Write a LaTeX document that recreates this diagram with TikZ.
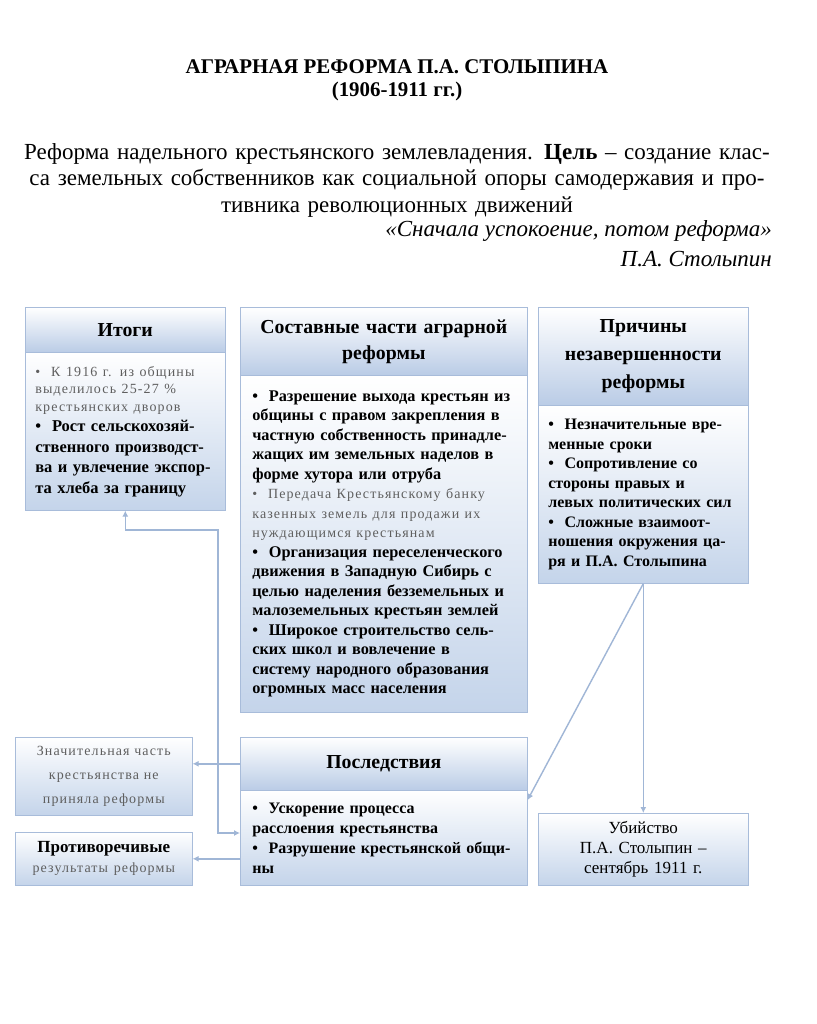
\documentclass[tikz,border=0pt]{standalone}
\usepackage{fontspec}
\setmainfont{Liberation Serif}
\newfontfamily\grayfont[LetterSpace=8]{Liberation Serif}
\usetikzlibrary{arrows.meta,calc}
\definecolor{bord}{RGB}{168,188,218}
\definecolor{hdrblue}{RGB}{186,204,230}
\definecolor{bodyblue}{RGB}{196,212,234}
\definecolor{connc}{RGB}{160,182,214}
\definecolor{graytxt}{RGB}{95,95,95}
\tikzset{
  every node/.append style={transform shape},
  boxbase/.style={draw=bord, line width=0.6pt, top color=white, anchor=north west, inner ysep=0pt},
  hdr/.style={boxbase, bottom color=hdrblue, inner xsep=4pt, align=center, font=\fontsize{19.8}{26}\selectfont\bfseries},
  bodybox/.style={boxbase, bottom color=bodyblue, inner xsep=12pt, align=left, font=\fontsize{16}{19.5}\selectfont\bfseries},
  sidebox/.style={boxbase, bottom color=bodyblue, inner xsep=4pt, align=center},
  conn/.style={draw=connc, line width=0.7pt, -{Latex[length=3pt,width=3pt]}},
  conn2/.style={draw=connc, line width=0.7pt, {Latex[length=3pt,width=3pt]}-{Latex[length=3pt,width=3pt]}}
}
\begin{document}
\begin{tikzpicture}[x=1pt,y=-1pt,scale=0.5]
\fill[white] (0,0) rectangle (816,1024);
\useasboundingbox (0,0) rectangle (816,1024);

% title and introduction
\node[font=\fontsize{20.9}{23}\selectfont\bfseries, align=center, inner sep=0pt] (title) at (397,80)
  {АГРАРНАЯ РЕФОРМА П.А. СТОЛЫПИНА\\(1906-1911 гг.)};
\node[font=\fontsize{23}{26.5}\selectfont, align=center, text width=810, inner sep=0pt] (intro) at (397,180)
  {Реформа надельного крестьянского землевладения. \textbf{Цель} – создание клас-\\
   са земельных собственников как социальной опоры самодержавия и про-\\
   тивника революционных движений};
\node[font=\fontsize{23}{26}\selectfont\itshape, anchor=east, inner sep=0pt] (quote) at (772,231)
  {«Сначала успокоение, потом реформа»};
\node[font=\fontsize{23}{26}\selectfont\itshape, anchor=east, inner sep=0pt] (author) at (772,259)
  {П.А. Столыпин};

% Итоги
\node[hdr, text width=192, minimum height=45] (hI) at (25,307) {Итоги};
\node[bodybox, inner xsep=10pt, text width=180, minimum height=158, font=\fontsize{16.5}{20.5}\selectfont\bfseries] (bI) at (25,352)
  {{\color{graytxt}\grayfont\mdseries\fontsize{14}{17.5}\selectfont •\ \ К 1916 г. из общины\\
    выделилось 25-27 \%\\ крестьянских дворов\par}
   •\ \ Рост сельскохозяй-\\ ственного производст-\\ ва и увлечение экспор-\\ та хлеба за границу};

% Составные части
\node[hdr, text width=279, minimum height=68] (hS) at (240,307) {Составные части аграрной\\ реформы};
\node[bodybox, text width=263, minimum height=337, font=\fontsize{16.3}{19.5}\selectfont\bfseries] (bS) at (240,375)
  {•\ \ Разрешение выхода крестьян из\\
   общины с правом закрепления в\\
   частную собственность принадле-\\
   жащих им земельных наделов в\\
   форме хутора или отруба\par
   {\color{graytxt}\grayfont\mdseries\fontsize{14}{19.5}\selectfont •\ \ Передача Крестьянскому банку\\
    казенных земель для продажи их\\ нуждающимся крестьянам\par}
   •\ \ Организация переселенческого\\
   движения в Западную Сибирь с\\
   целью наделения безземельных и\\
   малоземельных крестьян землей\par
   •\ \ Широкое строительство сель-\\
   \makebox[\linewidth][s]{ских школ и вовлечение в}\\
   \makebox[\linewidth][s]{систему народного образования}\\
   огромных масс населения};

% Причины
\node[hdr, text width=202, minimum height=98, font=\fontsize{19.8}{28}\selectfont\bfseries] (hP) at (538,307)
  {Причины\\ незавершенности\\ реформы};
\node[bodybox, inner xsep=10pt, text width=190, minimum height=178] (bP) at (538,405)
  {•\ \ Незначительные вре-\\ менные сроки\\
   •\ \ Сопротивление со\\ стороны правых и\\ левых политических сил\\
   •\ \ Сложные взаимоот-\\ ношения окружения ца-\\ ря и П.А. Столыпина};

% Последствия
\node[hdr, text width=279, minimum height=53] (hC) at (240,737) {Последствия};
\node[bodybox, text width=263, minimum height=95, font=\fontsize{16}{20}\selectfont\bfseries] (bC) at (240,790)
  {•\ \ Ускорение процесса\\ расслоения крестьянства\\
   •\ \ Разрушение крестьянской общи-\\ ны};

% side boxes
\node[sidebox, text width=169, minimum height=78, font=\grayfont\fontsize{14}{24}\selectfont\color{graytxt}] (zn) at (15,737)
  {Значительная часть\\ крестьянства не\\ приняла реформы};
\node[sidebox, text width=169, minimum height=53, font=\fontsize{17}{20}\selectfont] (pr) at (15,832)
  {\textbf{Противоречивые}\\ {\color{graytxt}\grayfont\fontsize{14}{20}\selectfont результаты реформы}};
\node[sidebox, text width=202, minimum height=72, font=\fontsize{17}{20}\selectfont] (ub) at (538,813)
  {Убийство\\ П.А. Столыпин –\\ сентябрь 1911 г.};

% connectors
\coordinate (k1) at (218,530);
\draw[conn] (hC.west) -- (hC.west -| zn.east);
\draw[conn] (pr.east -| bC.west) -- (pr.east);
\draw[conn2] (bI.south) |- (k1) |- ($(bC.north west)+(0,43)$);
\draw[conn] (bP.south) -- ($(bC.north east)+(0,10)$);
\draw[conn] (bP.south) -- (ub.north);
\end{tikzpicture}
\end{document}
